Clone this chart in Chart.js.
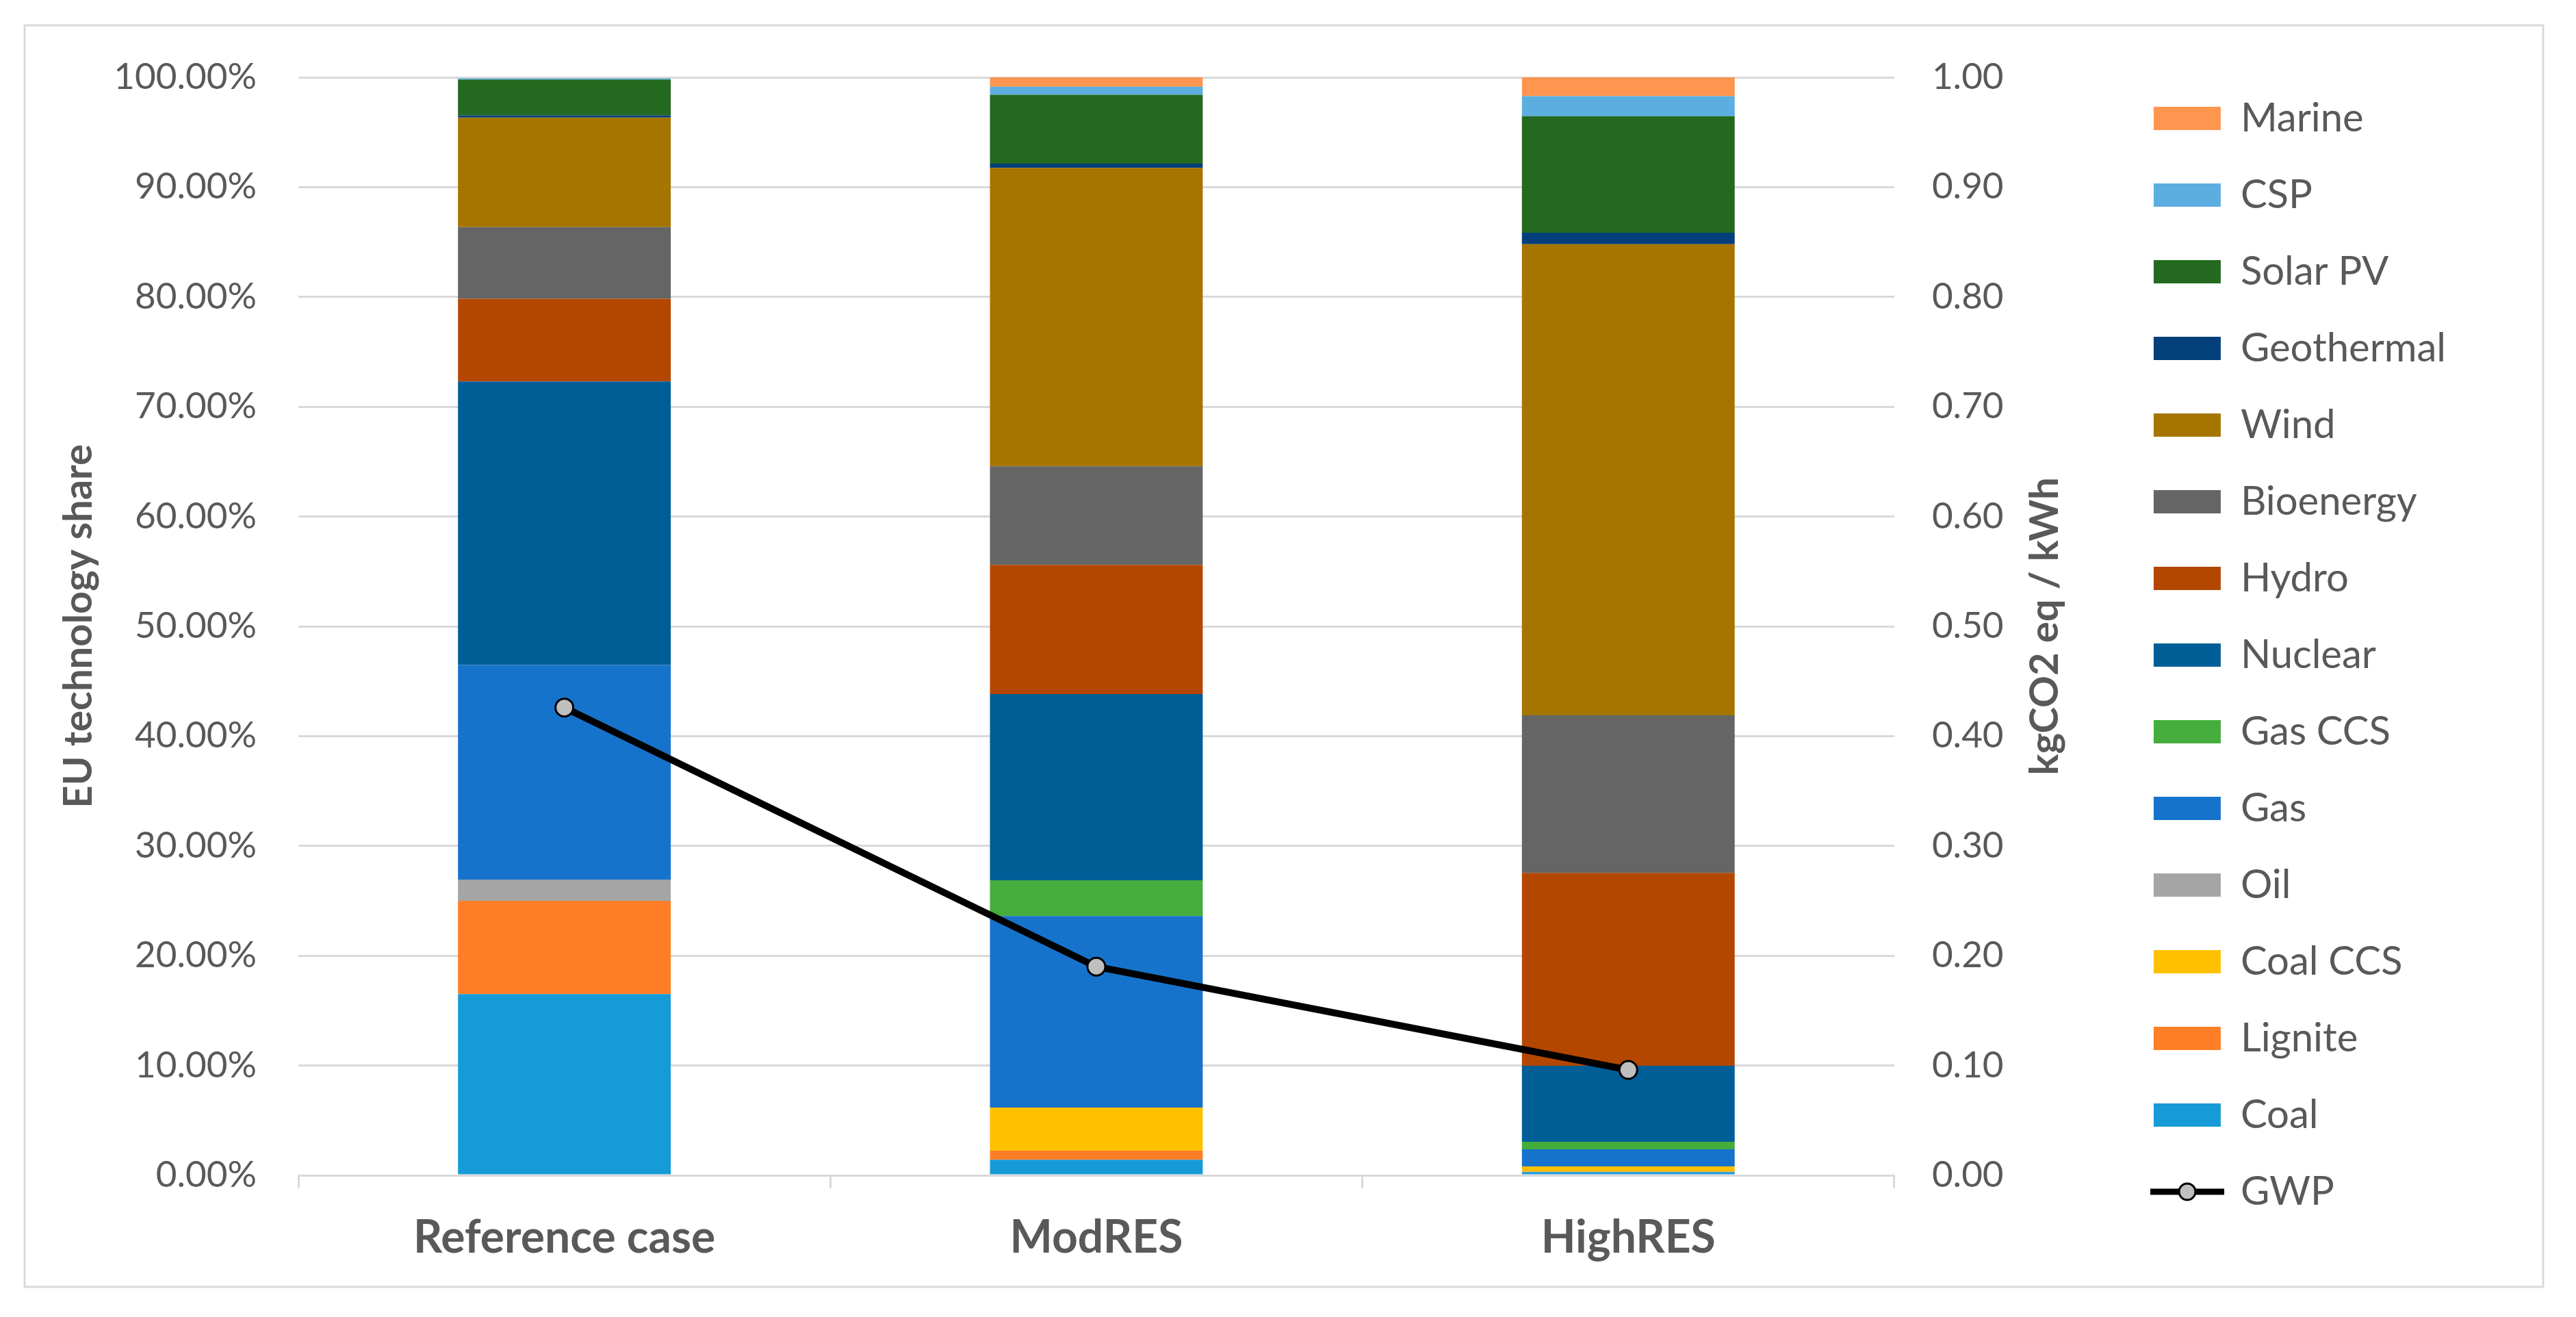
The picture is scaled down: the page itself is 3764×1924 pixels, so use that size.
<!DOCTYPE html>
<html>
<head>
<meta charset="utf-8">
<script src="https://cdn.jsdelivr.net/npm/chart.js@4.4.1/dist/chart.umd.min.js"></script>
<style>
  html, body { margin: 0; padding: 0; background: #ffffff; }
  #wrap { width: 3764px; height: 1924px; }
</style>
</head>
<body>
<div id="wrap"><canvas id="c" width="3764" height="1924"></canvas></div>
<script>
// ---- Data ----
const categories = ['Reference case', 'ModRES', 'HighRES'];

// technology shares in % (stack order bottom -> top)
const coal       = [16.50, 1.42, 0.30];
const lignite    = [8.50, 0.82, 0.04];
const coalCCS    = [0.00, 3.93, 0.47];
const oil        = [1.93, 0.00, 0.00];
const gas        = [19.54, 17.44, 1.56];
const gasCCS     = [0.00, 3.26, 0.68];
const nuclear    = [25.84, 16.96, 6.92];
const hydro      = [7.52, 11.76, 17.57];
const bioenergy  = [6.54, 8.99, 14.35];
const wind       = [9.97, 27.18, 42.91];
const geothermal = [0.20, 0.38, 1.05];
const solarPV    = [3.26, 6.27, 10.61];
const csp        = [0.10, 0.74, 1.83];
const marine     = [0.00, 0.85, 1.80];

// GWP, kgCO2 eq / kWh (right axis)
const gwp = [0.426, 0.190, 0.096];

const leftTicksStep = 10;   // %
const rightTicksStep = 0.1; // kgCO2 eq / kWh

const seriesNames  = ['Coal','Lignite','Coal CCS','Oil','Gas','Gas CCS','Nuclear','Hydro','Bioenergy','Wind','Geothermal','Solar PV','CSP','Marine'];
const seriesValues = [coal, lignite, coalCCS, oil, gas, gasCCS, nuclear, hydro, bioenergy, wind, geothermal, solarPV, csp, marine];
const seriesColors = ['#179bd7','#fe7f27','#ffc000','#a5a5a5','#1673cb','#44ad3b','#005e96','#b34700','#656565','#a57500','#033f7b','#23691f','#5caee0','#ff954f'];

const FONT = 'Lato';
const TXT = '#595959';
const GRID = '#d9d9d9';

// GWP legend icon (line with circle marker)
const gwpIcon = document.createElement('canvas');
gwpIcon.width = 108; gwpIcon.height = 34;
(function(){
  const g = gwpIcon.getContext('2d');
  g.strokeStyle = '#000'; g.lineWidth = 9;
  g.beginPath(); g.moveTo(0, 17); g.lineTo(108, 17); g.stroke();
  g.beginPath(); g.arc(54, 17, 12, 0, Math.PI * 2);
  g.fillStyle = '#bfbfbf'; g.fill();
  g.lineWidth = 3; g.stroke();
})();

const datasets = seriesNames.map((name, i) => ({
  type: 'bar',
  label: name,
  data: seriesValues[i],
  backgroundColor: seriesColors[i],
  borderWidth: 0,
  yAxisID: 'y',
  categoryPercentage: 0.4,
  barPercentage: 1.0
}));
datasets.push({
  type: 'line',
  label: 'GWP',
  data: gwp,
  yAxisID: 'y1',
  order: -1,
  borderColor: '#000000',
  borderWidth: 10,
  tension: 0,
  pointRadius: 13,
  pointBorderWidth: 3,
  pointBackgroundColor: '#bfbfbf',
  pointBorderColor: '#000000',
  fill: false
});

const decor = {
  id: 'decor',
  beforeDraw(chart) {
    const ctx = chart.ctx;
    ctx.save();
    ctx.fillStyle = '#ffffff';
    ctx.fillRect(0, 0, chart.width, chart.height);
    ctx.strokeStyle = GRID;
    ctx.lineWidth = 3;
    ctx.strokeRect(36, 37, 3716 - 36, 1880 - 37);
    ctx.restore();
  },
  afterDraw(chart) {
    const ctx = chart.ctx;
    const s = chart.scales.y1;
    const ca = chart.chartArea;
    ctx.save();
    ctx.translate(s.left + 220, (ca.top + ca.bottom) / 2);
    ctx.rotate(-Math.PI / 2);
    ctx.font = 'bold 58px ' + FONT;
    ctx.fillStyle = TXT;
    ctx.textAlign = 'center';
    ctx.textBaseline = 'middle';
    ctx.fillText('kgCO2 eq / kWh', 0, 0);
    ctx.restore();
  }
};

new Chart(document.getElementById('c'), {
  data: { labels: categories, datasets },
  plugins: [decor],
  options: {
    responsive: false,
    devicePixelRatio: 1,
    animation: false,
    layout: { padding: { left: 75, right: 180, top: 90, bottom: 78 } },
    scales: {
      x: {
        stacked: true,
        offset: true,
        grid: { display: true, drawOnChartArea: false, drawTicks: true, tickLength: 19, offset: true, color: GRID, lineWidth: 3 },
        border: { display: true, color: GRID, width: 3 },
        ticks: { color: TXT, padding: 33, font: { family: FONT, size: 66, weight: 'bold' } },
        afterFit: (s) => { s.height = 129; }
      },
      y: {
        stacked: true,
        position: 'left',
        min: 0, max: 100,
        grid: { color: GRID, lineWidth: 3, drawTicks: false },
        border: { display: false },
        ticks: { stepSize: leftTicksStep, color: TXT, padding: 61, font: { family: FONT, size: 53 },
                 callback: (v) => v.toFixed(2) + '%' },
        title: { display: true, text: 'EU technology share', color: TXT, padding: { top: 5, bottom: 0 },
                 font: { family: FONT, size: 58, weight: 'bold' } },
        afterFit: (s) => { s.width = 361; }
      },
      y1: {
        position: 'right',
        stacked: false,
        min: 0, max: 1,
        grid: { display: false, drawTicks: false },
        border: { display: false },
        ticks: { stepSize: rightTicksStep, color: TXT, padding: 55, font: { family: FONT, size: 53 },
                 callback: (v) => v.toFixed(2) },
        afterFit: (s) => { s.width = 325; }
      }
    },
    plugins: {
      tooltip: { enabled: false },
      title: { display: true, text: '', fullSize: false, padding: 0, font: { size: 20, lineHeight: '23px' } },
      legend: {
        position: 'right',
        align: 'start',
        labels: {
          color: TXT,
          font: { family: FONT, size: 58 },
          usePointStyle: true,
          pointStyleWidth: 98,
          boxHeight: 34,
          padding: 54,
          generateLabels: (chart) => {
            const items = Chart.defaults.plugins.legend.labels.generateLabels(chart);
            items.forEach(it => {
              if (it.text === 'GWP') {
                it.pointStyle = gwpIcon;
              } else {
                it.pointStyle = 'rect';
                it.lineWidth = 0;
                it.strokeStyle = it.fillStyle;
              }
            });
            return items;
          },
          sort: (a, b) => {
            const ka = a.text === 'GWP' ? 1000 : -a.datasetIndex;
            const kb = b.text === 'GWP' ? 1000 : -b.datasetIndex;
            return ka - kb;
          }
        }
      }
    }
  }
});
</script>
</body>
</html>
